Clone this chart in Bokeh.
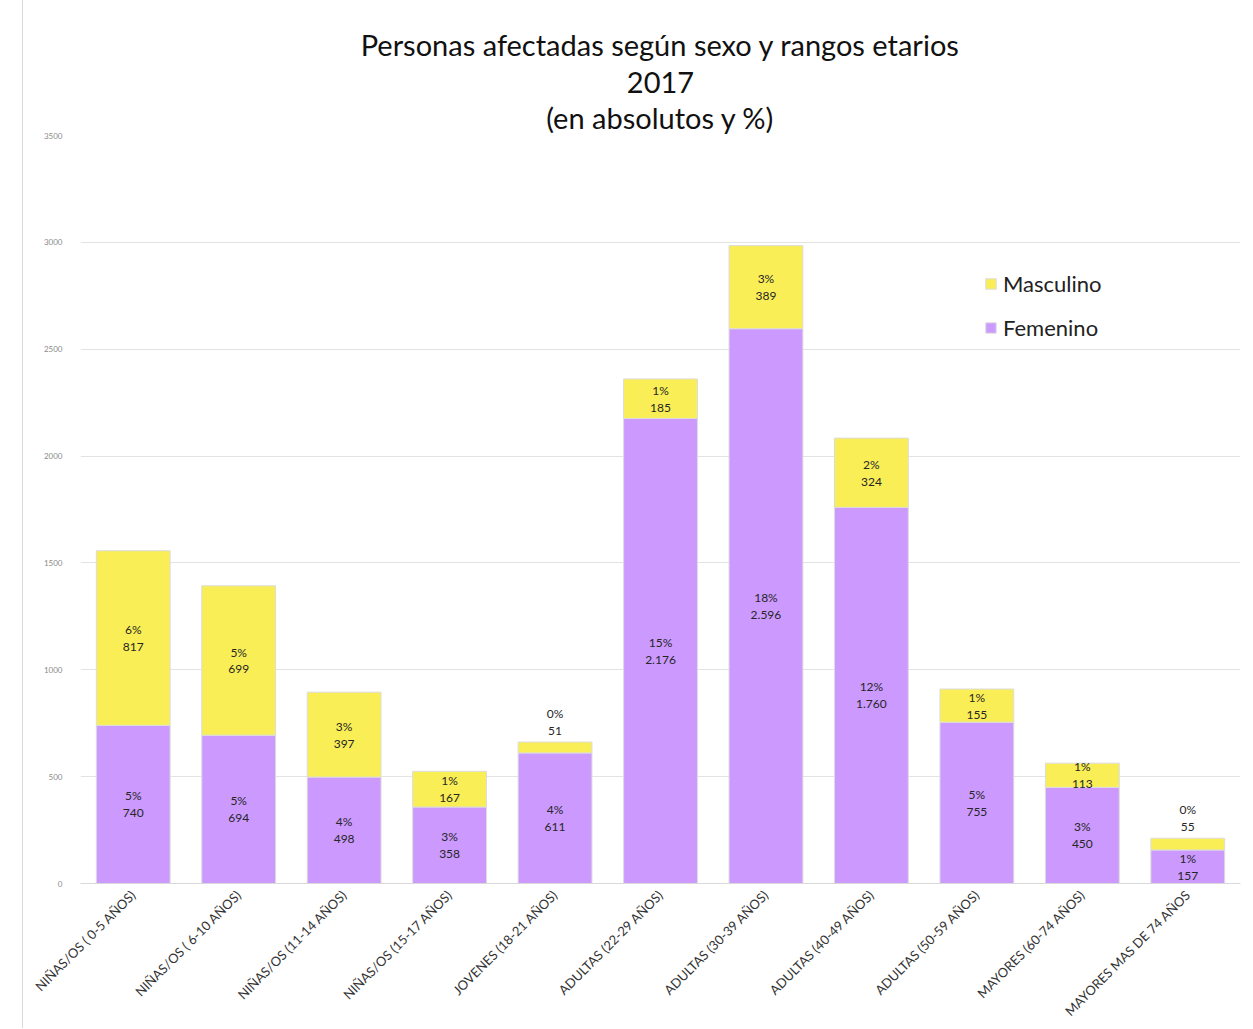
import math
from bokeh.plotting import figure
from bokeh.models import (ColumnDataSource, Range1d, FactorRange, FixedTicker, Title,
                          Legend, LegendItem)
from bokeh.core.properties import value
from bokeh.embed import file_html
from bokeh.resources import INLINE

categories = ["NIÑAS/OS ( 0-5 AÑOS)", "NIÑAS/OS ( 6-10 AÑOS)", "NIÑAS/OS (11-14 AÑOS)",
              "NIÑAS/OS (15-17 AÑOS)", "JOVENES (18-21 AÑOS)", "ADULTAS (22-29 AÑOS)",
              "ADULTAS (30-39 AÑOS)", "ADULTAS (40-49 AÑOS)", "ADULTAS (50-59 AÑOS)",
              "MAYORES (60-74 AÑOS)", "MAYORES MAS DE 74 AÑOS"]
femenino = [740, 694, 498, 358, 611, 2176, 2596, 1760, 755, 450, 157]
masculino = [817, 699, 397, 167, 51, 185, 389, 324, 155, 113, 55]
femenino_pct = [5, 5, 4, 3, 4, 15, 18, 12, 5, 3, 1]
masculino_pct = [6, 5, 3, 1, 0, 1, 3, 2, 1, 1, 0]
y_ticks = [0, 500, 1000, 1500, 2000, 2500, 3000, 3500]
title_lines = ["Personas afectadas según sexo y rangos etarios", "2017", "(en absolutos y %)"]

PURPLE = "#CC99FF"
YELLOW = "#FAEE57"
FONT = "Lato"


def fmt(v):
    return f"{v:,}".replace(",", ".")


source = ColumnDataSource(dict(cat=categories, fem=femenino, masc=masculino))

p = figure(x_range=FactorRange(*categories), y_range=Range1d(0, 3500),
           width=1224, height=1028, output_backend="svg", toolbar_location=None,
           min_border_left=57, min_border_right=7, min_border_bottom=145, min_border_top=135)
p.styles = {"margin-left": "22px", "border-left": "1px solid #d9d9d9"}

r = p.vbar_stack(["fem", "masc"], x="cat", width=0.7, color=[PURPLE, YELLOW],
                 line_color="#dcdcdc", line_width=1, source=source)

# labels
in_x, in_y, in_t = [], [], []
ab_x, ab_y, ab_t = [], [], []
for c, f, m, fp, mp in zip(categories, femenino, masculino, femenino_pct, masculino_pct):
    in_x.append(c); in_y.append(f / 2); in_t.append(f"{fp}%\n{fmt(f)}")
    if m < 60:
        ab_x.append(c); ab_y.append(f + m); ab_t.append(f"{mp}%\n{fmt(m)}")
    else:
        in_x.append(c); in_y.append(f + m / 2); in_t.append(f"{mp}%\n{fmt(m)}")

p.text(x=in_x, y=in_y, text=in_t, text_align="center", text_baseline="middle",
       text_font=value(FONT), text_font_size="12px", text_color="#262626", text_line_height=1.13)
p.text(x=ab_x, y=ab_y, text=ab_t, text_align="center", text_baseline="bottom", y_offset=-4,
       text_font=value(FONT), text_font_size="12px", text_color="#262626", text_line_height=1.13)

# titles: first added sits nearest the plot
for t, so in zip(reversed(title_lines), [2, 7, 9]):
    p.add_layout(Title(text=t, align="center", text_font=FONT, text_font_size="29px",
                       text_font_style="normal", text_color="#111111",
                       standoff=so), "above")

legend = Legend(items=[LegendItem(label="Masculino", renderers=[r[1]]),
                       LegendItem(label="Femenino", renderers=[r[0]])],
                location=(904, 542), border_line_color=None, background_fill_alpha=0,
                label_text_font=FONT, label_text_font_size="22px", label_text_color="#222222",
                glyph_width=13, glyph_height=13, spacing=17, label_standoff=6)
p.add_layout(legend)

p.xgrid.grid_line_color = None
p.ygrid.grid_line_color = "#e3e3e3"
p.outline_line_color = None
p.yaxis.ticker = FixedTicker(ticks=y_ticks)
p.yaxis.axis_line_color = None
p.yaxis.major_tick_line_color = None
p.yaxis.minor_tick_line_color = None
p.yaxis.major_label_text_font = FONT
p.yaxis.major_label_text_font_size = "8px"
p.yaxis.major_label_text_color = "#8a8a8a"
p.yaxis.major_label_standoff = 12

p.xaxis.axis_line_color = "#d9d9d9"
p.xaxis.major_tick_line_color = None
p.xaxis.major_label_orientation = math.pi / 4
p.xaxis.major_label_text_font = FONT
p.xaxis.major_label_text_font_size = "13px"
p.xaxis.major_label_text_color = "#333333"
p.xaxis.major_label_standoff = 3
p.x_range.range_padding = 0
p.x_range.group_padding = 0

open("out.html", "w").write(file_html(p, INLINE))
